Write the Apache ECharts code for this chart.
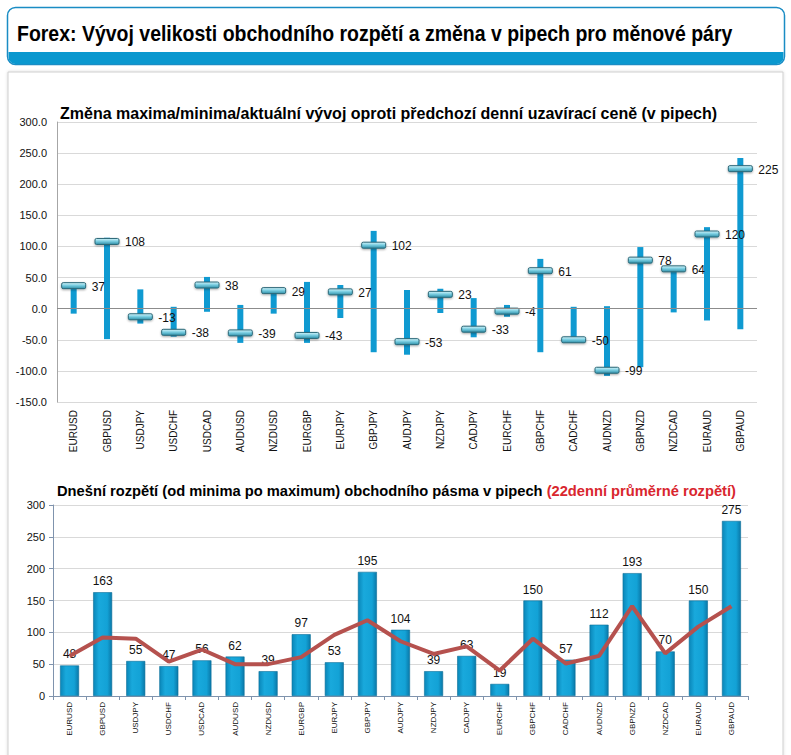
<!DOCTYPE html>
<html><head><meta charset="utf-8">
<script src="https://cdn.jsdelivr.net/npm/echarts@6/dist/echarts.min.js"></script>
<style>html,body{margin:0;padding:0;background:#fff;}#c{width:791px;height:755px;}</style>
</head><body><div id="c"></div>
<script>
const categories = ['EURUSD','GBPUSD','USDJPY','USDCHF','USDCAD','AUDUSD','NZDUSD','EURGBP','EURJPY','GBPJPY','AUDJPY','NZDJPY','CADJPY','EURCHF','GBPCHF','CADCHF','AUDNZD','GBPNZD','NZDCAD','EURAUD','GBPAUD'];
const dayHigh  = [40, 114, 31, 3, 51, 6, 31, 43, 38, 125, 30, 32, 17, 6, 80, 3, 4, 99, 64, 131, 242];
const dayLow   = [-8, -49, -24, -45, -5, -55, -8, -55, -15, -70, -74, -7, -46, -13, -70, -54, -108, -94, -6, -19, -33];
const current  = [37, 108, -13, -38, 38, -39, 29, -43, 27, 102, -53, 23, -33, -4, 61, -50, -99, 78, 64, 120, 225];
const todayRange = [48, 163, 55, 47, 56, 62, 39, 97, 53, 195, 104, 39, 63, 19, 150, 57, 112, 193, 70, 150, 275];
const avgRange22 = [63, 92, 90, 54, 73, 50, 50, 61, 96, 119, 86, 66, 78, 40, 90, 51, 63, 141, 67, 109, 141];
const topTicks = {min: -150, max: 300, step: 50};
const bottomTicks = {min: 0, max: 300, step: 50};

const FONT = 'Liberation Sans, Arial, sans-serif';
const HEADER = 'Forex: Vývoj velikosti obchodního rozpětí a změna v pipech pro měnové páry';
const HEADER_FONT = 'bold 22px "Liberation Sans", Arial, sans-serif';
const mctx = document.createElement('canvas').getContext('2d');
mctx.font = HEADER_FONT;
const headerScale = Math.min(1, 716 / mctx.measureText(HEADER).width);

const chart = echarts.init(document.getElementById('c'), null, {renderer: 'svg'});

const markerFill = new echarts.graphic.LinearGradient(0, 0, 0, 1, [
  {offset: 0, color: '#d6f4fa'}, {offset: 0.45, color: '#7ccfe2'}, {offset: 1, color: '#2f8fa8'}
]);
const barFill = new echarts.graphic.LinearGradient(0, 0, 1, 0, [
  {offset: 0, color: '#0a86b8'}, {offset: 0.3, color: '#19a9dc'}, {offset: 0.75, color: '#13a2d6'}, {offset: 1, color: '#0a78a8'}
]);

const option = {
  animation: false,
  graphic: [
    {type: 'rect', z: 0, shape: {x: 8, y: 72, width: 775, height: 700}, style: {fill: '#fff', stroke: '#cfcfcf', lineWidth: 1, shadowBlur: 3, shadowColor: 'rgba(0,0,0,0.15)'}},
    {type: 'rect', z: 1, shape: {x: 7.5, y: 7.5, width: 777, height: 57, r: 8}, style: {fill: '#fff', stroke: '#1a8cc4', lineWidth: 1.5}},
    {type: 'rect', z: 2, shape: {x: 8.5, y: 52, width: 775, height: 12, r: [0, 0, 7, 7]}, style: {fill: '#0a98cf'}},
    {type: 'text', z: 3, x: 17, y: 33, scaleX: headerScale, style: {text: HEADER, font: HEADER_FONT, fill: '#000', verticalAlign: 'middle', align: 'left'}}
  ],
  title: [
    {left: 55, top: 100, padding: 5, text: 'Změna maxima/minima/aktuální vývoj oproti předchozí denní uzavírací ceně (v pipech)',
     textStyle: {fontFamily: FONT, fontSize: 16, fontWeight: 'bold', color: '#000'}},
    {left: 52, top: 478, padding: 5, text: '{a|Dnešní rozpětí (od minima po maximum) obchodního pásma v pipech }{b|(22denní průměrné rozpětí)}',
     textStyle: {rich: {
       a: {fontFamily: FONT, fontSize: 14.7, fontWeight: 'bold', color: '#000'},
       b: {fontFamily: FONT, fontSize: 14.7, fontWeight: 'bold', color: '#d9262e'}
     }}}
  ],
  grid: [
    {left: 57, right: 34, top: 122, bottom: 353},
    {left: 53, right: 43, top: 505, bottom: 59}
  ],
  xAxis: [
    {gridIndex: 0, type: 'category', data: categories, boundaryGap: true,
     axisLine: {show: false, onZero: false}, axisTick: {show: false},
     axisLabel: {rotate: 90, fontSize: 10, fontFamily: FONT, color: '#111', margin: 8, interval: 0}},
    {gridIndex: 1, type: 'category', data: categories, boundaryGap: true,
     axisLine: {show: true, lineStyle: {color: '#7f93ad'}}, axisTick: {show: true, length: 4, lineStyle: {color: '#7f93ad'}},
     axisLabel: {rotate: 90, fontSize: 8, fontFamily: FONT, color: '#111', margin: 6, interval: 0}}
  ],
  yAxis: [
    {gridIndex: 0, type: 'value', min: topTicks.min, max: topTicks.max, interval: topTicks.step,
     axisLine: {show: true, lineStyle: {color: '#a6a6a6'}}, axisTick: {show: false},
     splitLine: {lineStyle: {color: '#d9d9d9'}},
     axisLabel: {formatter: v => v.toFixed(1), fontSize: 11, fontFamily: FONT, color: '#111', margin: 10}},
    {gridIndex: 1, type: 'value', min: bottomTicks.min, max: bottomTicks.max, interval: bottomTicks.step,
     axisLine: {show: true, lineStyle: {color: '#7f93ad'}}, axisTick: {show: true, length: 4, lineStyle: {color: '#7f93ad'}},
     splitLine: {lineStyle: {color: '#d9d9d9'}},
     axisLabel: {fontSize: 11, fontFamily: FONT, color: '#111', margin: 8}}
  ],
  series: [
    {type: 'custom', xAxisIndex: 0, yAxisIndex: 0, z: 3,
     data: categories.map((c, i) => [i, dayHigh[i], dayLow[i]]),
     encode: {x: 0, y: [1, 2]},
     renderItem: (params, api) => {
       const x = api.coord([api.value(0), 0])[0];
       const hi = api.coord([api.value(0), api.value(1)])[1];
       const lo = api.coord([api.value(0), api.value(2)])[1];
       return {type: 'rect', shape: {x: x - 3, y: hi, width: 6, height: lo - hi}, style: {fill: '#0f9ad1'}};
     },
     markLine: {silent: true, symbol: 'none', label: {show: false}, lineStyle: {color: '#8c8c8c', width: 1, type: 'solid'}, data: [{yAxis: 0}]}
    },
    {type: 'custom', xAxisIndex: 0, yAxisIndex: 0, z: 4,
     data: categories.map((c, i) => [i, current[i]]),
     encode: {x: 0, y: 1},
     renderItem: (params, api) => {
       const p = api.coord([api.value(0), api.value(1)]);
       return {type: 'group', children: [
         {type: 'rect', shape: {x: p[0] - 12, y: p[1] - 3, width: 24, height: 6, r: 1.5},
          style: {fill: markerFill, stroke: '#2b6878', lineWidth: 1, shadowBlur: 2, shadowOffsetY: 1, shadowColor: 'rgba(0,0,0,0.35)'}},
         {type: 'text', style: {text: String(api.value(1)), x: p[0] + 18, y: p[1] + 1, verticalAlign: 'middle', align: 'left',
          fill: '#111', font: '12px ' + FONT}}
       ]};
     }
    },
    {type: 'bar', xAxisIndex: 1, yAxisIndex: 1, data: todayRange, barWidth: 19, z: 2,
     itemStyle: {color: barFill, borderColor: '#0b6f99', borderWidth: 0.6},
     label: {show: true, position: 'top', distance: 5, fontSize: 12, fontFamily: FONT, color: '#111'}},
    {type: 'line', xAxisIndex: 1, yAxisIndex: 1, data: avgRange22, symbol: 'none', z: 5,
     lineStyle: {color: '#b5514e', width: 4}}
  ]
};
chart.setOption(option);
</script></body></html>
